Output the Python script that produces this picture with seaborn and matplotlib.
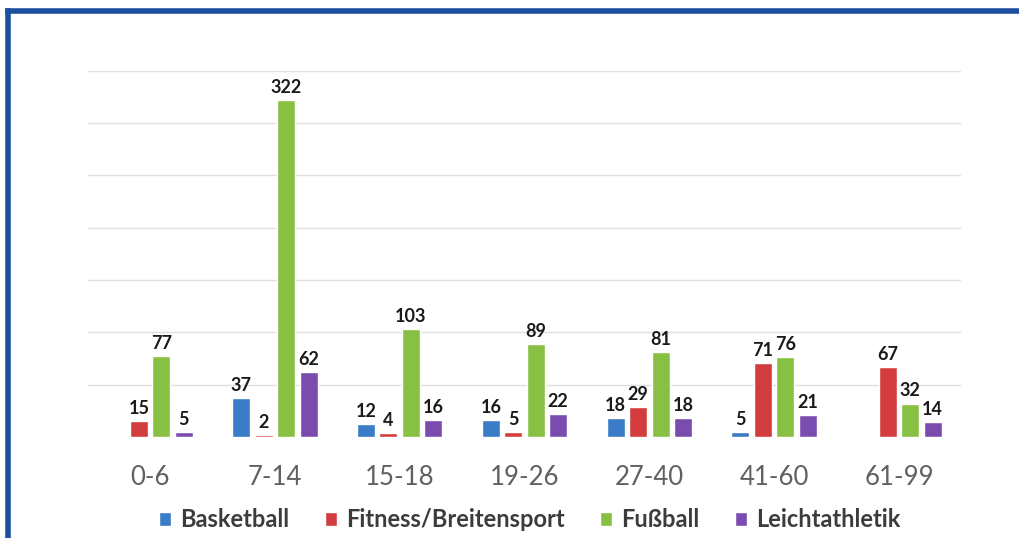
import numpy as np
import matplotlib.pyplot as plt
import seaborn as sns
import pandas as pd
from matplotlib.lines import Line2D

# Werte je Altersgruppe (leer = kein Balken)
altersgruppen = ['0-6', '7-14', '15-18', '19-26', '27-40', '41-60', '61-99']
basketball = [np.nan, 37, 12, 16, 18, 5, np.nan]
fitness = [15, 2, 4, 5, 29, 71, 67]
fussball = [77, 322, 103, 89, 81, 76, 32]
leichtathletik = [5, 62, 16, 22, 18, 21, 14]
sportarten = ['Basketball', 'Fitness/Breitensport', 'Fußball', 'Leichtathletik']
farben = ['#3a7cc8', '#d23c3c', '#88c043', '#7a4cb0']

df = pd.DataFrame({
    'Alter': altersgruppen * 4,
    'Sportart': np.repeat(sportarten, len(altersgruppen)),
    'Anzahl': basketball + fitness + fussball + leichtathletik,
})
df = df.dropna()

sns.set_theme(style='white')
plt.rcParams['font.family'] = ['Lato', 'DejaVu Sans']

fig = plt.figure(figsize=(10.19, 5.38), dpi=100)
ax = fig.add_axes([0.086, 0.1877, 0.8575, 0.6807])

sns.barplot(data=df, x='Alter', y='Anzahl', hue='Sportart', order=altersgruppen,
            hue_order=sportarten, palette=farben, width=0.72, gap=0.2,
            saturation=1, ax=ax)

for c in ax.containers:
    ax.bar_label(c, labels=[f'{v:.0f}' for v in c.datavalues], padding=3,
                 fontsize=13, fontweight='bold', color='#1a1a1a')

ax.set_ylim(0, 350)
ax.set_xlim(-0.5, 6.5)
ax.set_yticks(range(50, 351, 50))
ax.yaxis.grid(True, color='#e0e0e0', lw=1)
ax.set_axisbelow(True)
ax.tick_params(axis='y', left=False, labelleft=False)
ax.tick_params(axis='x', length=0, pad=20, labelsize=18.5, labelcolor='#606060')
ax.set_xlabel('')
ax.set_ylabel('')
sns.despine(ax=ax, left=True, bottom=True)

sns.move_legend(ax, 'center', bbox_to_anchor=(0.52, 0.034), bbox_transform=fig.transFigure,
                ncol=4, frameon=False, title=None, handlelength=0.5, handleheight=0.5,
                handletextpad=0.4, columnspacing=1.5,
                prop={'weight': 'bold', 'size': 17}, labelcolor='#3c3c3c')

# blauer Rahmen links und oben
blau = '#1d4f9f'
fig.add_artist(Line2D([8 / 1019, 8 / 1019], [0, 1 - 10.5 / 538], transform=fig.transFigure,
                      color=blau, lw=4, solid_capstyle='projecting'))
fig.add_artist(Line2D([8 / 1019, 1], [1 - 10.5 / 538, 1 - 10.5 / 538], transform=fig.transFigure,
                      color=blau, lw=4, solid_capstyle='projecting'))

fig.savefig('out.png', dpi=100)
